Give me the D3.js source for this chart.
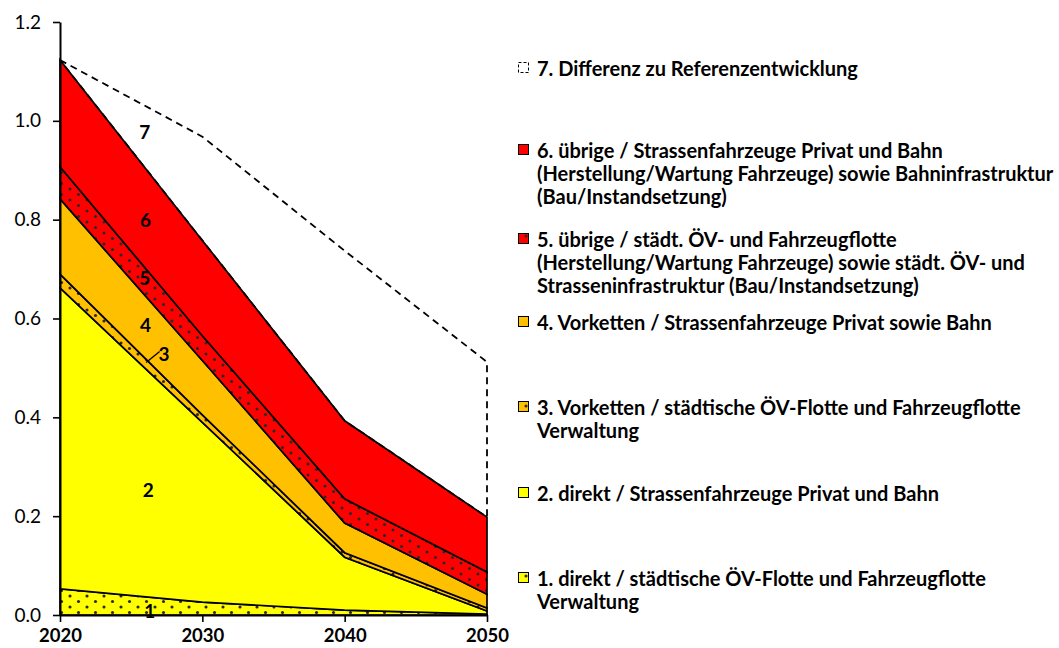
<!DOCTYPE html>
<html><head><meta charset="utf-8">
<script src="https://cdn.jsdelivr.net/npm/d3@7"></script>
<style>body{margin:0;background:#fff;} svg{display:block;}</style>
</head><body>
<svg id="chart" width="1059" height="648"></svg>
<script>
// ---------- data ----------
const years = [2020, 2030, 2040, 2050];
const s1 = [0.053, 0.026, 0.010, 0.002];
const s2 = [0.609, 0.364, 0.107, 0.006];
const s3 = [0.028, 0.015, 0.009, 0.006];
const s4 = [0.152, 0.110, 0.060, 0.028];
const s5 = [0.065, 0.050, 0.049, 0.045];
const s6 = [0.216, 0.193, 0.158, 0.111];
const s7 = [0.000, 0.210, 0.344, 0.314];
const seriesKeys = ["s1","s2","s3","s4","s5","s6","s7"];
const seriesLabels = ["1","2","3","4","5","6","7"];
const legendTexts = [
  ["1. direkt / städtische ÖV-Flotte und Fahrzeugflotte", "Verwaltung"],
  ["2. direkt / Strassenfahrzeuge Privat und Bahn"],
  ["3. Vorketten / städtische ÖV-Flotte und Fahrzeugflotte", "Verwaltung"],
  ["4. Vorketten / Strassenfahrzeuge Privat sowie Bahn"],
  ["5. übrige / städt. ÖV- und Fahrzeugflotte", "(Herstellung/Wartung Fahrzeuge) sowie städt. ÖV- und", "Strasseninfrastruktur (Bau/Instandsetzung)"],
  ["6. übrige / Strassenfahrzeuge Privat und Bahn", "(Herstellung/Wartung Fahrzeuge) sowie Bahninfrastruktur", "(Bau/Instandsetzung)"],
  ["7. Differenz zu Referenzentwicklung"]
];
const yTicks = [0, 0.2, 0.4, 0.6, 0.8, 1.0, 1.2];
const xTicks = [2020, 2030, 2040, 2050];
// in-chart label anchors (year, value)
const labelYears  = [2026.3, 2026.2, 2027.3, 2026.0, 2025.95, 2026.0, 2025.95];
const labelValues = [0.010, 0.253, 0.530, 0.587, 0.682, 0.800, 0.978];

// ---------- styles ----------
const fills = ["url(#dotYellow)", "#FFFF00", "url(#dotOrange)", "#FFC000", "url(#dotRed)", "#FF0000", "none"];
const legendFills = ["url(#dotYellowL)", "#FFFF00", "url(#dotOrangeL)", "#FFC000", "url(#dotRedL)", "#FF0000", "#fff"];
const FONT = "Lato, 'Open Sans', sans-serif";

const svg = d3.select("#chart");
const margin = {left: 60, top: 22};
const x = d3.scaleLinear().domain([2020, 2050]).range([margin.left, 487]);
const y = d3.scaleLinear().domain([0, 1.2]).range([615, margin.top]);

const defs = svg.append("defs");
function dotPattern(id, bg, w, h, pts) {
  const p = defs.append("pattern").attr("id", id).attr("patternUnits", "userSpaceOnUse")
    .attr("width", w).attr("height", h);
  p.append("rect").attr("width", w).attr("height", h).attr("fill", bg);
  pts.forEach(pt => p.append("circle").attr("cx", pt[0]).attr("cy", pt[1]).attr("r", 1.55).attr("fill", "#2a2a2a"));
}
const mainPts = [[2, 2], [10.5, 7.5]];
dotPattern("dotYellow", "#FFFF00", 17, 11, mainPts);
dotPattern("dotOrange", "#FFC000", 17, 11, mainPts);
dotPattern("dotRed", "#FF0000", 17, 11, mainPts);
dotPattern("dotYellowL", "#FFFF00", 10, 10, [[6, 6]]);
dotPattern("dotOrangeL", "#FFC000", 10, 10, [[6, 6]]);
dotPattern("dotRedL", "#FF0000", 10, 10, [[6, 6]]);

const table = years.map((yr, i) => ({year: yr, s1: s1[i], s2: s2[i], s3: s3[i], s4: s4[i], s5: s5[i], s6: s6[i], s7: s7[i]}));
const stacked = d3.stack().keys(seriesKeys)(table);
const area = d3.area().x(d => x(d.data.year)).y0(d => y(d[0])).y1(d => y(d[1]));

const g = svg.append("g");
stacked.forEach((s, i) => {
  const isRef = i === 6;
  g.append("path").datum(s).attr("d", area)
    .attr("fill", fills[i])
    .attr("stroke", "#000")
    .attr("stroke-width", isRef ? 1.8 : 1.7)
    .attr("stroke-dasharray", isRef ? "7,5" : null)
    .attr("stroke-linejoin", "miter");
});

// axes
const yAxis = svg.append("g").attr("transform", `translate(${margin.left},0)`)
  .call(d3.axisLeft(y).tickValues(yTicks).tickFormat(d3.format(".1f")).tickSize(7).tickPadding(12).tickSizeOuter(0));
yAxis.attr("font-size", null);
yAxis.selectAll("text").attr("font-family", FONT).attr("font-size", 19).attr("fill", "#000");
yAxis.select(".domain").attr("stroke-width", 2);
yAxis.selectAll(".tick line").attr("stroke-width", 1.6);

const xAxis = svg.append("g").attr("transform", `translate(0,${y(0)})`)
  .call(d3.axisBottom(x).tickValues(xTicks).tickFormat(d3.format("d")).tickSize(7).tickPadding(7).tickSizeOuter(0));
xAxis.attr("font-size", null);
xAxis.selectAll("text").attr("font-family", FONT).attr("font-size", 18.5).attr("font-weight", "bold").attr("fill", "#000");
xAxis.select(".domain").attr("stroke-width", 2);
xAxis.selectAll(".tick line").attr("stroke-width", 1.6);

// in-chart labels
seriesLabels.forEach((lab, i) => {
  svg.append("text").attr("x", x(labelYears[i])).attr("y", y(labelValues[i]))
    .attr("text-anchor", "middle").attr("dominant-baseline", "central")
    .attr("font-family", FONT).attr("font-weight", "bold").attr("font-size", 19)
    .attr("fill", "#000").text(lab);
});
// leader line for label 3
svg.append("line")
  .attr("x1", x(2026.05)).attr("y1", y(0.511))
  .attr("x2", x(2027.0)).attr("y2", y(0.533))
  .attr("stroke", "#000").attr("stroke-width", 1.3);

// legend
const legendFirstY = [578, 493, 407, 322, 239, 150, 68];
const lineH = 23;
const leg = svg.append("g");
const texts = [];
legendTexts.forEach((lines, i) => {
  const y0 = legendFirstY[i];
  leg.append("rect").attr("x", 518.5).attr("y", y0 - 5.5).attr("width", 10).attr("height", 10)
    .attr("fill", legendFills[i]).attr("stroke", "#000").attr("stroke-width", 1)
    .attr("stroke-dasharray", i === 6 ? "3,2" : null);
  lines.forEach((ln, j) => {
    const t = leg.append("text").attr("x", 537).attr("y", y0 + j * lineH)
      .attr("dominant-baseline", "central")
      .attr("font-family", FONT).attr("font-weight", "bold").attr("font-size", 16)
      .attr("fill", "#000").text(ln);
    texts.push(t);
  });
});
// scale legend font so the reference line width matches
const refNode = texts[texts.length - 1].node();
const wRef = refNode.getComputedTextLength();
const fs = 16 * 321 / wRef;
texts.forEach(t => t.attr("font-size", fs));
</script>
</body></html>
